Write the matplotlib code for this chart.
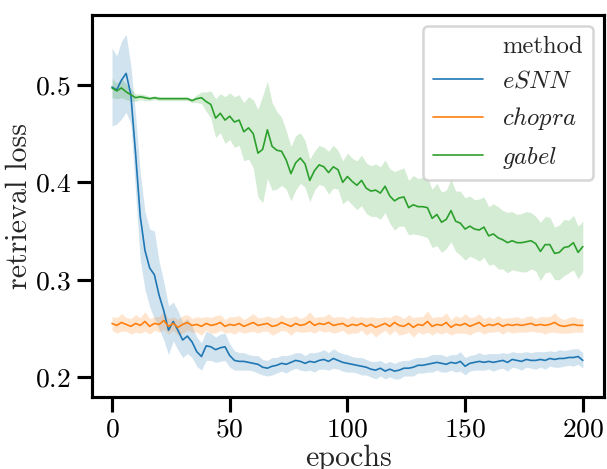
import numpy as np
import matplotlib
matplotlib.use("Agg")
import matplotlib.pyplot as plt
import seaborn as sns
from matplotlib.lines import Line2D

# epochs sampled every 2
epochs = np.arange(0, 201, 2)

esnn_mean = [0.498, 0.495, 0.505, 0.512, 0.490, 0.430, 0.365, 0.330, 0.312, 0.305,
             0.284, 0.268, 0.248, 0.257, 0.248, 0.238, 0.242, 0.236, 0.226, 0.221,
             0.232, 0.231, 0.228, 0.230, 0.231, 0.222, 0.217, 0.216, 0.216, 0.215,
             0.214, 0.213, 0.210, 0.209, 0.211, 0.212, 0.214, 0.213, 0.215, 0.217,
             0.216, 0.214, 0.216, 0.215, 0.217, 0.218, 0.216, 0.219, 0.217, 0.215,
             0.214, 0.213, 0.212, 0.211, 0.210, 0.208, 0.207, 0.209, 0.206, 0.208,
             0.206, 0.207, 0.209, 0.209, 0.210, 0.212, 0.212, 0.213, 0.214, 0.215,
             0.214, 0.213, 0.215, 0.214, 0.216, 0.211, 0.214, 0.215, 0.216, 0.215,
             0.216, 0.215, 0.216, 0.217, 0.215, 0.218, 0.217, 0.216, 0.218, 0.217,
             0.217, 0.218, 0.217, 0.219, 0.218, 0.219, 0.219, 0.220, 0.220, 0.221,
             0.217]
esnn_err = [0.040, 0.035, 0.040, 0.040, 0.030, 0.040, 0.045, 0.040, 0.040, 0.045,
            0.035, 0.030, 0.025, 0.020, 0.020, 0.018, 0.018, 0.016, 0.015, 0.014,
            0.015, 0.014, 0.013, 0.014, 0.014, 0.012, 0.010, 0.009, 0.009, 0.008,
            0.008, 0.009, 0.008, 0.008, 0.009, 0.008, 0.008, 0.009, 0.008, 0.008,
            0.009, 0.008, 0.009, 0.010, 0.009, 0.010, 0.009, 0.010, 0.009, 0.009,
            0.009, 0.008, 0.008, 0.009, 0.008, 0.008, 0.009, 0.008, 0.008, 0.008,
            0.008, 0.009, 0.008, 0.008, 0.009, 0.008, 0.008, 0.008, 0.009, 0.008,
            0.009, 0.008, 0.008, 0.009, 0.010, 0.009, 0.008, 0.008, 0.009, 0.008,
            0.008, 0.009, 0.008, 0.008, 0.009, 0.008, 0.008, 0.009, 0.008, 0.008,
            0.009, 0.008, 0.009, 0.008, 0.008, 0.009, 0.008, 0.008, 0.009, 0.008,
            0.008]

chopra_mean = [0.255, 0.253, 0.256, 0.254, 0.252, 0.255, 0.253, 0.257, 0.252, 0.255,
               0.254, 0.258, 0.252, 0.255, 0.251, 0.254, 0.256, 0.253, 0.254, 0.252,
               0.255, 0.253, 0.254, 0.256, 0.252, 0.254, 0.253, 0.255, 0.252, 0.254,
               0.256, 0.253, 0.254, 0.255, 0.252, 0.253, 0.256, 0.254, 0.252, 0.255,
               0.253, 0.254, 0.257, 0.253, 0.255, 0.254, 0.256, 0.253, 0.254, 0.255,
               0.252, 0.254, 0.253, 0.255, 0.252, 0.254, 0.251, 0.253, 0.255, 0.252,
               0.256, 0.253, 0.252, 0.255, 0.251, 0.254, 0.253, 0.257, 0.252, 0.254,
               0.253, 0.256, 0.251, 0.254, 0.253, 0.255, 0.252, 0.254, 0.256, 0.252,
               0.254, 0.253, 0.255, 0.252, 0.254, 0.253, 0.254, 0.253, 0.254, 0.255,
               0.253, 0.254, 0.253, 0.254, 0.256, 0.253, 0.252, 0.253, 0.254, 0.253,
               0.253]
chopra_err = [0.007, 0.008, 0.009, 0.007, 0.008, 0.009, 0.008, 0.010, 0.008, 0.007,
              0.008, 0.009, 0.008, 0.007, 0.008, 0.009, 0.008, 0.007, 0.008, 0.009,
              0.007, 0.008, 0.009, 0.008, 0.007, 0.008, 0.009, 0.008, 0.007, 0.008,
              0.009, 0.008, 0.007, 0.008, 0.009, 0.008, 0.008, 0.007, 0.009, 0.008,
              0.007, 0.008, 0.010, 0.008, 0.007, 0.008, 0.009, 0.008, 0.008, 0.007,
              0.008, 0.009, 0.008, 0.007, 0.009, 0.008, 0.010, 0.008, 0.007, 0.009,
              0.008, 0.010, 0.008, 0.009, 0.010, 0.008, 0.009, 0.011, 0.009, 0.008,
              0.009, 0.010, 0.008, 0.009, 0.008, 0.010, 0.009, 0.008, 0.009, 0.008,
              0.008, 0.007, 0.008, 0.008, 0.007, 0.008, 0.008, 0.007, 0.008, 0.008,
              0.007, 0.008, 0.009, 0.008, 0.010, 0.008, 0.007, 0.008, 0.008, 0.007,
              0.007]

gabel_mean = [0.497, 0.494, 0.497, 0.493, 0.490, 0.487, 0.488, 0.487, 0.486, 0.487,
              0.486, 0.486, 0.486, 0.486, 0.486, 0.486, 0.486, 0.484, 0.486, 0.487,
              0.483, 0.480, 0.466, 0.471, 0.464, 0.468, 0.462, 0.464, 0.452, 0.456,
              0.450, 0.430, 0.434, 0.454, 0.437, 0.433, 0.432, 0.423, 0.409, 0.420,
              0.425, 0.419, 0.402, 0.412, 0.418, 0.416, 0.410, 0.416, 0.413, 0.400,
              0.406, 0.401, 0.397, 0.402, 0.394, 0.391, 0.392, 0.389, 0.396, 0.386,
              0.381, 0.384, 0.385, 0.374, 0.377, 0.375, 0.375, 0.374, 0.363, 0.367,
              0.359, 0.362, 0.371, 0.360, 0.358, 0.352, 0.355, 0.352, 0.351, 0.354,
              0.345, 0.347, 0.343, 0.341, 0.338, 0.340, 0.338, 0.338, 0.339, 0.340,
              0.337, 0.329, 0.336, 0.336, 0.327, 0.328, 0.333, 0.334, 0.338, 0.328,
              0.334]
gabel_err = [0.010, 0.008, 0.010, 0.008, 0.006, 0.004, 0.003, 0.003, 0.002, 0.002,
             0.002, 0.002, 0.002, 0.002, 0.002, 0.002, 0.002, 0.002, 0.004, 0.006,
             0.010, 0.014, 0.020, 0.020, 0.024, 0.024, 0.026, 0.026, 0.030, 0.032,
             0.035, 0.045, 0.055, 0.050, 0.045, 0.040, 0.035, 0.030, 0.028, 0.028,
             0.026, 0.024, 0.022, 0.020, 0.020, 0.020, 0.022, 0.022, 0.020, 0.022,
             0.024, 0.024, 0.025, 0.026, 0.026, 0.026, 0.027, 0.027, 0.027, 0.028,
             0.030, 0.029, 0.030, 0.028, 0.030, 0.029, 0.030, 0.031, 0.030, 0.032,
             0.031, 0.030, 0.032, 0.031, 0.033, 0.032, 0.031, 0.030, 0.032, 0.031,
             0.030, 0.031, 0.032, 0.030, 0.031, 0.030, 0.029, 0.030, 0.031, 0.029,
             0.028, 0.030, 0.029, 0.028, 0.027, 0.028, 0.029, 0.027, 0.028, 0.027,
             0.026]

methods = ["$eSNN$", "$chopra$", "$gabel$"]

#========================================================================================
sns.set_context("talk")
sns.set_style("ticks")
plt.rcParams['font.family'] = 'serif'
plt.rcParams['font.serif'] = ['cmr10']
plt.rcParams['mathtext.fontset'] = 'cm'
plt.rcParams['axes.formatter.use_mathtext'] = True
plt.rcParams['axes.edgecolor'] = 'black'
plt.rcParams['xtick.color'] = 'black'
plt.rcParams['ytick.color'] = 'black'

# drawn at 120 dpi so the talk sizes come out a bit bigger, like the original
fig = plt.figure(figsize=(607/120, 469/120), dpi=120)
ax = fig.add_axes([92/607, 72/469, 512/607, 382/469])

series = [(esnn_mean, esnn_err), (chopra_mean, chopra_err), (gabel_mean, gabel_err)]
handles = [Line2D([], [], color='none')]
for i, (m, e) in enumerate(series):
    m = np.array(m)
    e = np.array(e)
    c = "C%d" % i
    ax.fill_between(epochs, m - e, m + e, color=c, alpha=0.2, linewidth=0)
    ln, = ax.plot(epochs, m, color=c, linewidth=1.0)
    handles.append(ln)

ax.set_xlim(-8.5, 209)
ax.set_ylim(0.1794, 0.572)
ax.set_xticks([0, 50, 100, 150, 200])
ax.set_yticks([0.2, 0.3, 0.4, 0.5])
ax.set_xlabel("epochs", labelpad=2)
ax.set_ylabel("retrieval loss", labelpad=1)
ax.legend(handles, ["method"] + methods, loc="upper right", fontsize=14.8,
          handlelength=2.0, borderaxespad=0.45)

fig.savefig("out.png", dpi=120)
